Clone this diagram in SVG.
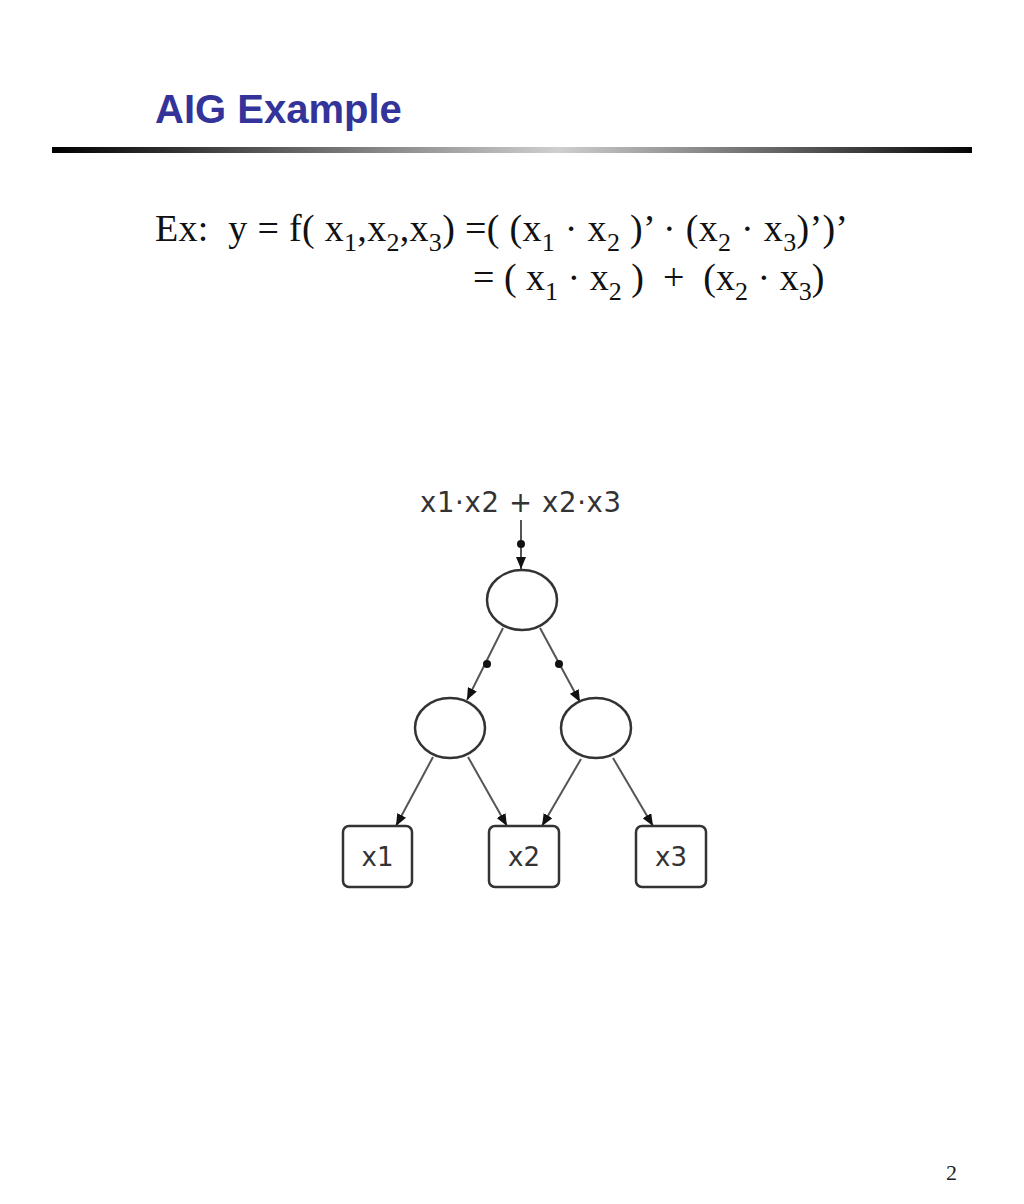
<svg xmlns="http://www.w3.org/2000/svg" width="1024" height="1204" viewBox="0 0 1024 1204">
<style>
.title{font-family:"Liberation Sans",Arial,sans-serif;font-weight:bold;font-size:40px;fill:#333399}
.f{font-family:"Liberation Serif","Times New Roman",serif;font-size:38px;fill:#111;white-space:pre}
.pg{font-family:"Liberation Serif","Times New Roman",serif;font-size:22px;fill:#222}
.lbl{font-family:"DejaVu Sans",sans-serif;font-size:26px;fill:#333}
.top{font-size:27.5px}
.gate{fill:#fff;stroke:#333;stroke-width:2.5}
.pi{fill:#fff;stroke:#333;stroke-width:2.5}
.e{stroke:#555;stroke-width:2;fill:none;marker-end:url(#ah)}
.dot{fill:#111}
</style>
<defs>
<linearGradient id="rule" x1="0" y1="0" x2="1" y2="0">
<stop offset="0" stop-color="#000"/>
<stop offset="0.55" stop-color="#cfcfcf"/>
<stop offset="1" stop-color="#050505"/>
</linearGradient>
<marker id="ah" viewBox="0 0 12 10" refX="12" refY="5" markerWidth="12" markerHeight="10" markerUnits="userSpaceOnUse" orient="auto">
<path d="M0,0 L12,5 L0,10 z" fill="#111"/>
</marker>
</defs>
<rect width="1024" height="1204" fill="#fff"/>
<text class="title" x="155" y="123">AIG Example</text>
<rect x="52" y="147" width="920" height="6" fill="url(#rule)"/>
<text class="f" x="155" y="241" textLength="693">Ex:  y = f( x<tspan font-size="26" dy="10">1</tspan><tspan dy="-10">,x</tspan><tspan font-size="26" dy="10">2</tspan><tspan dy="-10">,x</tspan><tspan font-size="26" dy="10">3</tspan><tspan dy="-10">) =( (x</tspan><tspan font-size="26" dy="10">1</tspan><tspan dy="-10"> · x</tspan><tspan font-size="26" dy="10">2</tspan><tspan dy="-10"> )’ · (x</tspan><tspan font-size="26" dy="10">2</tspan><tspan dy="-10"> · x</tspan><tspan font-size="26" dy="10">3</tspan><tspan dy="-10">)’)’</tspan></text>
<text class="f" x="473" y="290">= ( x<tspan font-size="26" dy="10">1</tspan><tspan dy="-10"> · x</tspan><tspan font-size="26" dy="10">2</tspan><tspan dy="-10"> )  +  (x</tspan><tspan font-size="26" dy="10">2</tspan><tspan dy="-10"> · x</tspan><tspan font-size="26" dy="10">3</tspan><tspan dy="-10">)</tspan></text>
<text class="pg" x="946" y="1180">2</text>
<g id="output-label"><text class="lbl top" x="420" y="512" textLength="201">x1·x2 + x2·x3</text></g>
<g id="connectors">
<line class="e" x1="521" y1="520" x2="521" y2="569"/>
<circle class="dot" cx="521" cy="544" r="4"/>
<line class="e" x1="503" y1="628" x2="467" y2="700"/>
<circle class="dot" cx="487" cy="664" r="4"/>
<line class="e" x1="540" y1="628" x2="580" y2="702"/>
<circle class="dot" cx="559" cy="664" r="4"/>
<line class="e" x1="433" y1="757" x2="396" y2="826"/>
<line class="e" x1="468" y1="757" x2="507" y2="826"/>
<line class="e" x1="581" y1="759" x2="542" y2="826"/>
<line class="e" x1="613" y1="758" x2="653" y2="826"/>
</g>
<g id="and-top"><ellipse class="gate" cx="522" cy="600" rx="35" ry="30"/></g>
<g id="and-left"><ellipse class="gate" cx="450" cy="728" rx="35" ry="30"/></g>
<g id="and-right"><ellipse class="gate" cx="596" cy="728" rx="35" ry="30"/></g>
<g id="x1"><rect class="pi" x="343" y="826" width="69" height="61" rx="6"/><text class="lbl" x="377.5" y="866" text-anchor="middle">x1</text></g>
<g id="x2"><rect class="pi" x="489" y="826" width="70" height="61" rx="6"/><text class="lbl" x="524" y="866" text-anchor="middle">x2</text></g>
<g id="x3"><rect class="pi" x="636" y="826" width="70" height="61" rx="6"/><text class="lbl" x="671" y="866" text-anchor="middle">x3</text></g>
</svg>
